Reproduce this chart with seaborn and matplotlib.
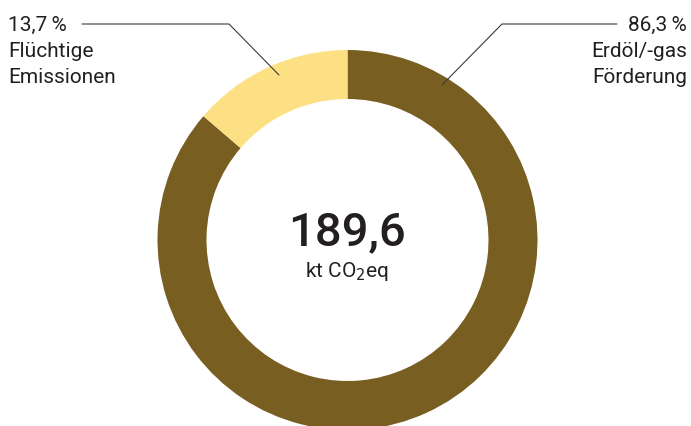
import matplotlib
matplotlib.use("Agg")
import matplotlib.pyplot as plt
import seaborn as sns

# ---------------------------------
# DATA
# ---------------------------------

categories = ["Erdöl/-gas\nFörderung", "Flüchtige\nEmissionen"]
shares = [86.3, 13.7]
share_labels = ["86,3\u2009%", "13,7\u2009%"]
total_value = "189,6"
total_unit = "kt CO$_2$eq"
colors = ["#785E21", "#FDE084"]

# ---------------------------------
# STYLE
# ---------------------------------

sns.set_theme(style="white")
fam = ["Roboto", "DejaVu Sans"]
plt.rcParams["font.family"] = fam
text_color = "#231f20"

W, H = 691, 426
fig = plt.figure(figsize=(W / 100, H / 100), dpi=100)
ax = fig.add_axes([0, 0, 1, 1])

# pixel-like coordinates, y measured from the bottom
cx, cy, r = 347.5, H - 240, 190

ax.pie(
    shares,
    colors=sns.color_palette(colors),
    startangle=90,
    counterclock=False,
    center=(cx, cy),
    radius=r,
    wedgeprops=dict(width=49, linewidth=0),
)

ax.set_xlim(0, W)
ax.set_ylim(0, H)
ax.set_aspect("equal")
ax.axis("off")

# ---------------------------------
# LABELS
# ---------------------------------

line_gap = 26
fs = 15

# right label (first category)
right_lines = [share_labels[0]] + categories[0].split("\n")
for i, t in enumerate(right_lines):
    ax.text(687, H - 31 - i * line_gap, t, ha="right", va="baseline",
            fontsize=fs, color=text_color, family=fam)
ax.plot([617, 502, 442], [H - 24, H - 24, H - 85], color="#3a3a3a", lw=0.8)

# left label (second category)
left_lines = [share_labels[1]] + categories[1].split("\n")
for i, t in enumerate(left_lines):
    ax.text(8, H - 31 - i * line_gap, t, ha="left", va="baseline",
            fontsize=fs, color=text_color, family=fam)
ax.plot([82, 229, 279], [H - 24, H - 24, H - 75], color="#3a3a3a", lw=0.8)

# centre total
ax.text(cx, H - 245, total_value, ha="center", va="baseline",
        fontsize=34, fontweight="medium", color=text_color, family=fam)
ax.text(cx - 1, H - 277, total_unit, ha="center", va="baseline",
        fontsize=15, color=text_color, family=fam)

fig.savefig("out.png", dpi=100)
